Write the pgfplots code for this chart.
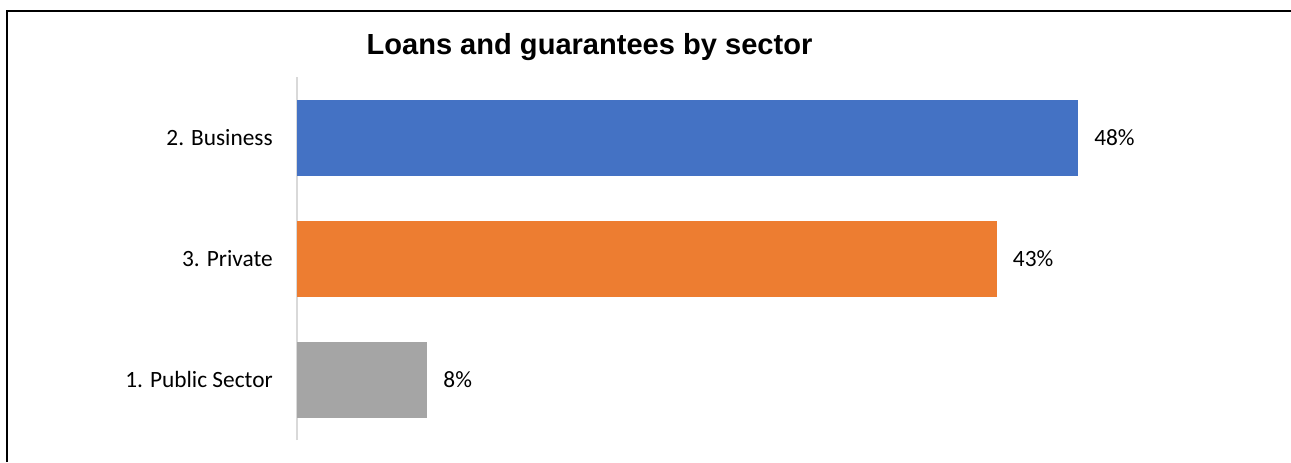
\documentclass[border=0pt]{standalone}
\usepackage{fontspec}
\setmainfont{Carlito}
\newfontfamily\arialfont{Liberation Sans}
\usepackage{pgfplots}
\pgfplotsset{compat=1.18}
\definecolor{cblue}{HTML}{4472C4}
\definecolor{corange}{HTML}{ED7D31}
\definecolor{cgrey}{HTML}{A5A5A5}
\definecolor{caxis}{HTML}{D9D9D9}
\begin{document}
\begin{tikzpicture}
\useasboundingbox (0,0) rectangle (968.25pt,346.5pt);
\fill[white] (0,0) rectangle (968.25pt,346.5pt);
\begin{axis}[
  at={(222.75pt,16.5pt)}, anchor=south west,
  scale only axis,
  width=729.75pt, height=272.25pt,
  xbar, bar width=57pt,
  xmin=0, xmax=59.8,
  ymin=-0.5, ymax=2.5,
  axis x line=none,
  axis y line*=left,
  y axis line style={draw=caxis, line width=1.5pt, -},
  ytick={0,1,2},
  yticklabels={1. Public Sector, 3. Private, 2. Business},
  major tick length=0pt,
  /pgf/number format/assume math mode=true,
  yticklabel style={font=\fontsize{17.5}{20}\selectfont, inner sep=0pt, anchor=east, xshift=-18pt},
  nodes near coords={\pgfmathprintnumber{\pgfplotspointmeta}\%},
  point meta=x,
  every node near coord/.append style={font=\fontsize{17.5}{20}\selectfont, anchor=west, inner sep=0pt, xshift=12pt, text=black},
  title={\arialfont\bfseries Loans and guarantees by sector},
  title style={at={(axis description cs:0.3006,1)}, anchor=base, yshift=11.25pt, font=\fontsize{21.8}{24}\selectfont},
]
\addplot[fill=cblue, draw=none, bar shift=0pt] coordinates {(48,2)};
\addplot[fill=corange, draw=none, bar shift=0pt] coordinates {(43,1)};
\addplot[fill=cgrey, draw=none, bar shift=0pt] coordinates {(8,0)};
\end{axis}
\draw[black, line width=1.5pt] (5.25pt,0) -- (5.25pt,338.25pt) -- (968.25pt,338.25pt);
\end{tikzpicture}
\end{document}
